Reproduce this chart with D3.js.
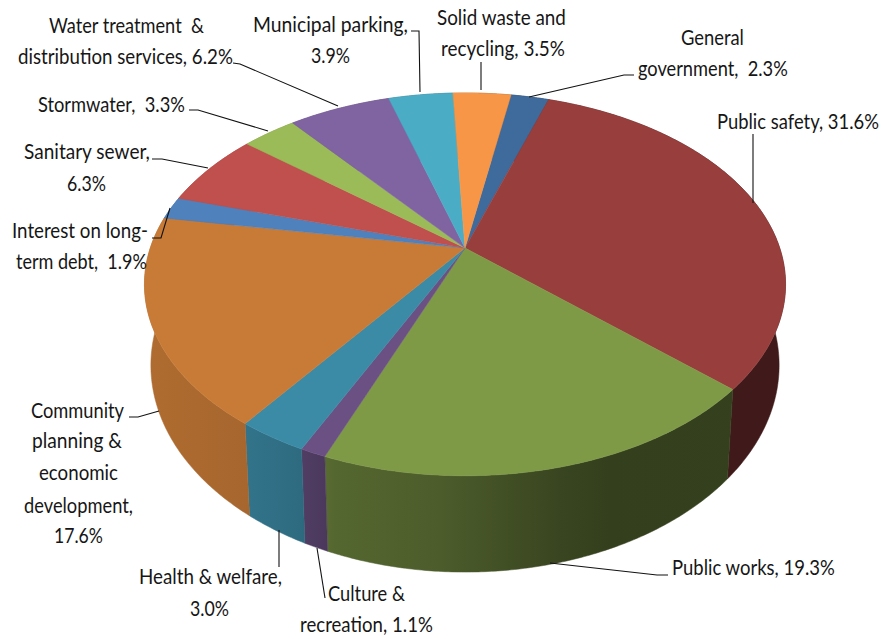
<!DOCTYPE html>
<html>
<head>
<meta charset="utf-8">
<script src="https://cdnjs.cloudflare.com/ajax/libs/d3/7.8.5/d3.min.js"></script>
<style>
html,body{margin:0;padding:0;background:#fff}
svg{display:block}
text{font-family:Lato,"Noto Sans",sans-serif;font-size:21px;fill:#161616;white-space:pre}
</style>
</head>
<body>
<svg id="chart" width="883" height="639"></svg>
<script>
// ---- data ----
const categories = ["General government","Public safety","Public works","Culture & recreation","Health & welfare","Community planning & economic development","Interest on long-term debt","Sanitary sewer","Stormwater","Water treatment & distribution services","Municipal parking","Solid waste and recycling"];
const values = [2.3,31.6,19.3,1.1,3.0,17.6,1.9,6.3,3.3,6.2,3.9,3.5];
const colors = ["#3E6A9C","#983F3D","#7F9A47","#6B5083","#3C8BA6","#C87B37","#4F81BD","#C0504D","#9BBB59","#8064A2","#4BACC6","#F79646"];

// ---- label layout: text, left, right, baseline ----
const labelLines = [
 ["Water treatment  &",49,204,33],["distribution services, 6.2%",18,233,64],
 ["Municipal parking,",253,408,32],["3.9%",311,350,63],
 ["Solid waste and",437,566,25],["recycling, 3.5%",441,565,56],
 ["General",681,744,45],["government,  2.3%",638,788,76],
 ["Public safety, 31.6%",717,879,129],
 ["Stormwater,  3.3%",38,185,112],
 ["Sanitary sewer,",24,150,159],["6.3%",67,106,191],
 ["Interest on long-",12,148,238],["term debt,  1.9%",16,147,269],
 ["Community",31,124,418],["planning &",32,122,448],["economic",39,118,480],["development,",24,133,513],["17.6%",54,103,543],
 ["Health & welfare,",139,282,584],["3.0%",190,229,616],
 ["Culture &",328,405,601],["recreation, 1.1%",300,433,632],
 ["Public works, 19.3%",672,835,575]
];
const leaders = [
 [[233,63],[240,64],[338,106]],
 [[411,31],[419,31],[420,92]],
 [[189,110],[198,110],[268,131]],
 [[152,159],[162,159],[208,168]],
 [[152,238],[161,238],[170,208]],
 [[481,62],[481,90]],
 [[634,75],[624,75],[529,97]],
 [[753,134],[753,203]],
 [[129,417],[138,417],[159,411]],
 [[279,567],[279,530]],
 [[325,598],[317,548]],
 [[668,575],[657,575],[550,563]]
];

// ---- perspective model of the disc ----
const cx = 465, cy = 248, k = 0.19;
const xScale = d3.scaleLinear().domain([-1,1]).range([-314.7,314.7]);
const yScale = d3.scaleLinear().domain([-1,1]).range([-184.5,184.5]);
const thickness = 78, shrink = 0.02;
function project(theta, r, z){
  const u = r*Math.sin(theta), v = -r*Math.cos(theta), w = 1 - k*v;
  return [cx + xScale(u)*(1 - shrink*z)/w, cy + (yScale(v) + thickness*z)/w];
}

const startAngle = 10.0*Math.PI/180;
const pie = d3.pie().sort(null).startAngle(startAngle).endAngle(startAngle+2*Math.PI);
const arcs = pie(values);
const line = d3.line();
const step = Math.PI/360;
function arcAngles(d){
  const n = Math.max(2, Math.ceil((d.endAngle-d.startAngle)/step));
  return d3.range(n+1).map(i => d.startAngle + (d.endAngle-d.startAngle)*i/n);
}

const svg = d3.select("#chart");
const defs = svg.append("defs");

// wall shading as a function of screen x
const shadeX = [144,250,300,335,440,560,610,785];
const shadeF = [.88,.83,.77,.67,.60,.45,.41,.42];
const shade = d3.scaleLinear().domain(shadeX).range(shadeF);

arcs.forEach((d,i)=>{
  const g = defs.append("linearGradient").attr("id","wall"+i)
    .attr("gradientUnits","userSpaceOnUse").attr("x1",144).attr("x2",785).attr("y1",0).attr("y2",0);
  shadeX.forEach(x=>{
    const c = d3.rgb(colors[i]), f = shade(x);
    g.append("stop").attr("offset",(x-144)/(785-144))
      .attr("stop-color",d3.rgb(c.r*f,c.g*f,c.b*f).formatHex());
  });
});

// walls
svg.append("g").selectAll("path").data(arcs).join("path")
  .attr("d",d=>{
    const a = arcAngles(d);
    const top = a.map(t=>project(t,1,0));
    const bot = a.slice().reverse().map(t=>project(t,1,1));
    return line(top.concat(bot))+"Z";
  })
  .attr("fill",(d,i)=>`url(#wall${i})`)
  .attr("stroke",(d,i)=>`url(#wall${i})`).attr("stroke-width",.5);

// top faces
svg.append("g").selectAll("path").data(arcs).join("path")
  .attr("d",d=>line([project(0,0,0)].concat(arcAngles(d).map(t=>project(t,1,0))))+"Z")
  .attr("fill",(d,i)=>colors[i])
  .attr("stroke",(d,i)=>colors[i]).attr("stroke-width",.5);

// leader lines
svg.append("g").selectAll("path").data(leaders).join("path")
  .attr("d",d=>line(d)).attr("fill","none").attr("stroke","#111").attr("stroke-width",1.1);

// labels: natural text is squeezed horizontally to the measured line width
svg.append("g").selectAll("text").data(labelLines).join("text")
  .text(d=>d[0])
  .attr("transform",function(d){
    const natural = this.getComputedTextLength();
    return `translate(${d[1]},${d[3]}) scale(${(d[2]-d[1])/natural},1)`;
  });
</script>
</body>
</html>
